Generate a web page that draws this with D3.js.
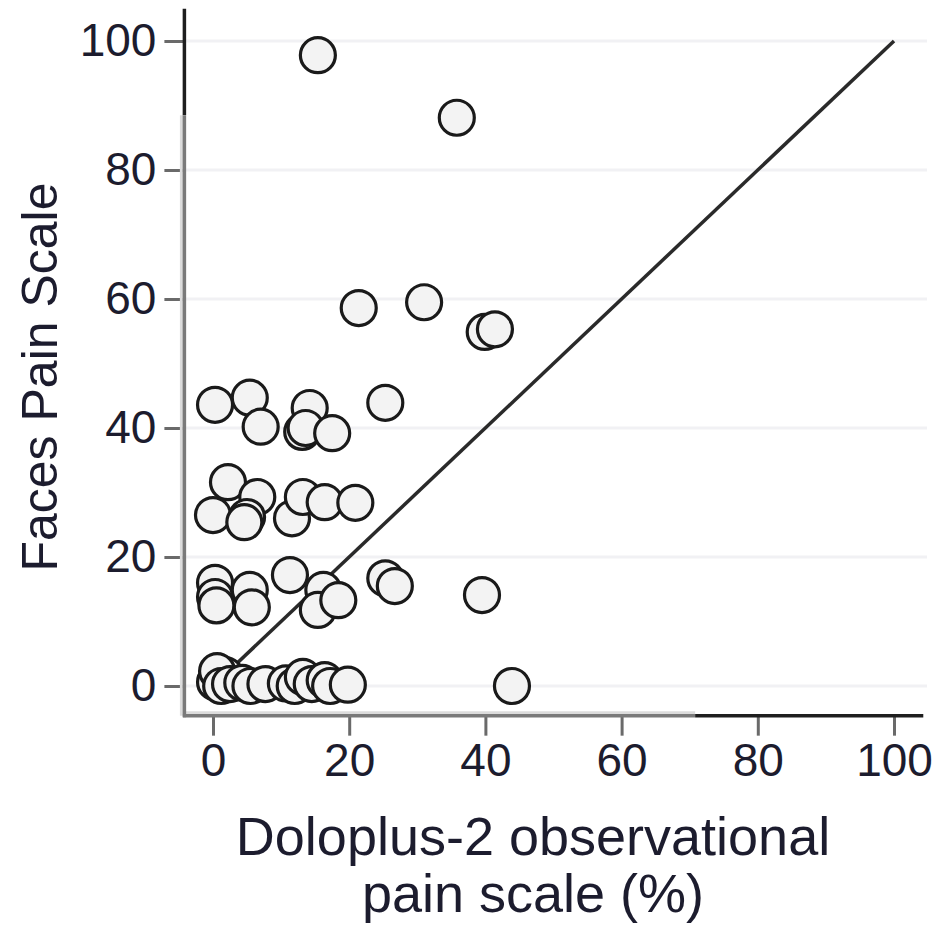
<!DOCTYPE html>
<html>
<head>
<meta charset="utf-8">
<script src="https://cdn.jsdelivr.net/npm/d3@7"></script>
<style>
  html, body { margin: 0; padding: 0; background: #fff; }
  svg { display: block; font-family: "Liberation Sans", Arial, sans-serif; }
</style>
</head>
<body>
<svg id="chart"></svg>
<script>
// Doloplus-2 (%) vs Faces Pain Scale, one entry per patient
const doloplus = [
  15.4, 35.8, 21.4, 31.0, 39.9, 41.4,
  0.3, 5.4, 7.0, 14.2, 13.1, 13.6, 17.5, 25.3,
  2.2, 6.5, 0.0, 5.0, 4.6, 11.6, 13.2, 16.4, 20.9,
  0.3, 0.3, 0.5, 5.4, 5.7, 11.3, 16.2, 15.4, 18.4, 25.3, 26.7, 39.5,
  0.3, 1.8, 0.6, 1.2, 2.5, 4.3, 5.5, 7.7, 10.7, 12.0, 13.2, 14.5, 16.4, 17.2, 19.8, 43.9
];
const faces = [
  97.8, 88.1, 58.6, 59.5, 54.9, 55.3,
  43.6, 44.7, 40.2, 43.1, 39.4, 40.0, 39.2, 43.9,
  31.6, 29.3, 26.5, 26.2, 25.4, 26.0, 29.3, 28.5, 28.4,
  16.0, 13.8, 12.5, 14.9, 12.2, 17.2, 14.9, 11.8, 13.3, 16.7, 15.5, 14.1,
  0.6, 1.7, 2.3, 0.0, 0.3, 0.5, 0.0, 0.3, 0.4, 0.0, 1.4, 0.3, 0.9, 0.0, 0.2, 0.0
];
const xTicks = [0, 20, 40, 60, 80, 100];
const yTicks = [0, 20, 40, 60, 80, 100];
const identityLine = [[0, 0], [100, 100]];

const width = 942;
const height = 927;
const textColor = "#1c1c2e";

const svg = d3.select("#chart").attr("width", width).attr("height", height);

const x = d3.scaleLinear().domain([0, 100]).range([213, 894]);
const y = d3.scaleLinear().domain([0, 100]).range([686, 41]);

// axis extents (data units) – axes run a bit past the data range
const xLo = -4.2, xHi = 104.3, yLo = -4.6, yHi = 105;
const axisX = x(xLo);
const axisY = y(yLo);

// faint horizontal gridlines
svg.append("g")
  .selectAll("line")
  .data(yTicks)
  .enter()
  .append("line")
  .attr("x1", axisX)
  .attr("x2", 927)
  .attr("y1", d => y(d))
  .attr("y2", d => y(d))
  .attr("stroke", "#f1f1f4")
  .attr("stroke-width", 3);

// y axis
const yAxis = svg.append("g")
  .attr("transform", `translate(${axisX},0)`)
  .call(d3.axisLeft(y).tickValues(yTicks).tickSize(20).tickPadding(8));
yAxis.select(".domain").remove();
yAxis.selectAll(".tick line").attr("stroke", "#6a6a6a").attr("stroke-width", 3);
yAxis.selectAll(".tick text")
  .attr("fill", textColor)
  .style("font-size", "46px");

// x axis
const xAxis = svg.append("g")
  .attr("transform", `translate(0,${axisY})`)
  .call(d3.axisBottom(x).tickValues(xTicks).tickSize(20).tickPadding(8));
xAxis.select(".domain").remove();
xAxis.selectAll(".tick line").attr("stroke", "#6a6a6a").attr("stroke-width", 3);
xAxis.selectAll(".tick text")
  .attr("fill", textColor)
  .style("font-size", "46px");

// axis lines: scanned look, grey lower/left part, black upper/right part
const ySplit = 88.5, xSplit = 70.8;
svg.append("line")
  .attr("x1", axisX - 3).attr("x2", axisX - 3)
  .attr("y1", y(ySplit)).attr("y2", axisY)
  .attr("stroke", "#dcdcdc").attr("stroke-width", 3);
svg.append("line")
  .attr("x1", axisX).attr("x2", x(xSplit))
  .attr("y1", axisY - 3).attr("y2", axisY - 3)
  .attr("stroke", "#dcdcdc").attr("stroke-width", 3);
svg.append("line")
  .attr("x1", axisX).attr("x2", axisX)
  .attr("y1", y(yHi)).attr("y2", y(ySplit))
  .attr("stroke", "#1e1e1e").attr("stroke-width", 3.5);
svg.append("line")
  .attr("x1", axisX).attr("x2", axisX)
  .attr("y1", y(ySplit)).attr("y2", axisY + 1.5)
  .attr("stroke", "#7a7a7a").attr("stroke-width", 3.5);
svg.append("line")
  .attr("x1", axisX - 1.5).attr("x2", x(xSplit))
  .attr("y1", axisY).attr("y2", axisY)
  .attr("stroke", "#7a7a7a").attr("stroke-width", 3.5);
svg.append("line")
  .attr("x1", x(xSplit)).attr("x2", x(xHi))
  .attr("y1", axisY).attr("y2", axisY)
  .attr("stroke", "#1e1e1e").attr("stroke-width", 3.5);

// line of identity
svg.append("path")
  .datum(identityLine)
  .attr("d", d3.line().x(d => x(d[0])).y(d => y(d[1])))
  .attr("fill", "none")
  .attr("stroke", "#2a2a2a")
  .attr("stroke-width", 3.5);

// points
svg.append("g")
  .selectAll("circle")
  .data(d3.range(doloplus.length))
  .enter()
  .append("circle")
  .attr("cx", i => x(doloplus[i]))
  .attr("cy", i => y(faces[i]))
  .attr("r", 17.5)
  .attr("fill", "#f3f3f3")
  .attr("stroke", "#1a1a1a")
  .attr("stroke-width", 3.2);

// axis titles
svg.append("text")
  .attr("x", 533)
  .attr("y", 855)
  .attr("text-anchor", "middle")
  .attr("fill", textColor)
  .style("font-size", "54px")
  .text("Doloplus-2 observational");
svg.append("text")
  .attr("x", 533)
  .attr("y", 912)
  .attr("text-anchor", "middle")
  .attr("fill", textColor)
  .style("font-size", "54px")
  .text("pain scale (%)");
svg.append("text")
  .attr("transform", "translate(57,377) rotate(-90)")
  .attr("text-anchor", "middle")
  .attr("fill", textColor)
  .style("font-size", "50px")
  .text("Faces Pain Scale");
</script>
</body>
</html>
